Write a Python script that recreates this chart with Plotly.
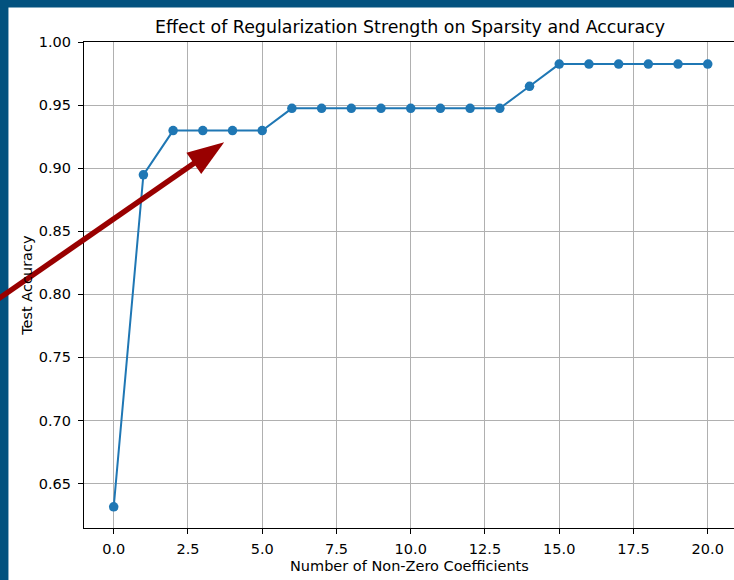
import math
import plotly.graph_objects as go

# Data
n_nonzero = [0, 1, 2, 3, 4, 5, 6, 7, 8, 9, 10, 11, 12, 13, 14, 15, 16, 17, 18, 19, 20]
accuracy = [0.6316, 0.8947, 0.9298, 0.9298, 0.9298, 0.9298, 0.9474, 0.9474, 0.9474,
            0.9474, 0.9474, 0.9474, 0.9474, 0.9474, 0.9649, 0.9825, 0.9825, 0.9825,
            0.9825, 0.9825, 0.9825]
x_ticks = [0.0, 2.5, 5.0, 7.5, 10.0, 12.5, 15.0, 17.5, 20.0]
x_tick_labels = ["0.0", "2.5", "5.0", "7.5", "10.0", "12.5", "15.0", "17.5", "20.0"]
y_ticks = [0.65, 0.70, 0.75, 0.80, 0.85, 0.90, 0.95, 1.00]
y_tick_labels = ["0.65", "0.70", "0.75", "0.80", "0.85", "0.90", "0.95", "1.00"]
title_text = "Effect of Regularization Strength on Sparsity and Accuracy"
x_title = "Number of Non-Zero Coefficients"
y_title = "Test Accuracy"
arrow_tip = (3.72, 0.9205)  # data coordinates the arrow points at

W, H = 734, 580
ML, MR, MT, MB = 83.6, 0, 41.5, 52.3
pw = W - ML - MR
ph = H - MT - MB
px_per_x = 29.72
x_range = [-1, -1 + pw / px_per_x]
y_range = [0.6148, 1.0]

def page_x(px):
    return (px - ML) / pw

def page_y(py):
    return (H - MB - py) / ph

def data_to_px(x, y):
    px = ML + (x - x_range[0]) / (x_range[1] - x_range[0]) * pw
    py = MT + (y_range[1] - y) / (y_range[1] - y_range[0]) * ph
    return px, py

FONT = "DejaVu Sans"
border = "#03527f"
arrow_color = "#990000"
TICK_SIZE = 14.5
TITLE_SIZE = 17.4

# Arrow geometry (pixels): tail offset, head length and half-width
tx, ty = data_to_px(*arrow_tip)
tail_dx, tail_dy = -238, 165
L = math.hypot(tail_dx, tail_dy)
ux, uy = -tail_dx / L, -tail_dy / L      # unit vector tail -> tip
nx, ny = -uy, ux
head_len, head_half = 37, 13
bx, by = tx - head_len * ux, ty - head_len * uy
c1 = (bx + head_half * nx, by + head_half * ny)
c2 = (bx - head_half * nx, by - head_half * ny)
head_path = "M {:.5f},{:.5f} L {:.5f},{:.5f} L {:.5f},{:.5f} Z".format(
    page_x(tx), page_y(ty), page_x(c1[0]), page_y(c1[1]), page_x(c2[0]), page_y(c2[1]))

fig = go.Figure()
fig.add_trace(go.Scatter(
    x=n_nonzero, y=accuracy, mode="lines+markers",
    line=dict(color="#1f77b4", width=2),
    marker=dict(color="#1f77b4", size=9.5),
    showlegend=False,
))

axis_common = dict(
    showgrid=True, gridcolor="#b0b0b0", gridwidth=1,
    zeroline=False, showline=True, linecolor="black", linewidth=1.1,
    ticks="outside", ticklen=5, tickwidth=1, tickcolor="black",
    tickfont=dict(family=FONT, size=TICK_SIZE, color="black"),
)

fig.update_layout(
    width=W, height=H,
    margin=dict(l=ML, r=MR, t=MT, b=MB, pad=0),
    paper_bgcolor="white", plot_bgcolor="white",
    hovermode=False,
    xaxis=dict(range=x_range, tickvals=x_ticks, ticktext=x_tick_labels,
               mirror=True, ticklabelstandoff=3, **axis_common),
    yaxis=dict(range=y_range, tickvals=y_ticks, ticktext=y_tick_labels,
               ticklabelstandoff=4, **axis_common),
    shapes=[
        dict(type="rect", xref="paper", yref="paper", layer="above",
             x0=page_x(-20), x1=page_x(8), y0=page_y(620), y1=page_y(-20),
             fillcolor=border, line=dict(width=0)),
        dict(type="rect", xref="paper", yref="paper", layer="above",
             x0=page_x(-20), x1=page_x(760), y0=page_y(7), y1=page_y(-20),
             fillcolor=border, line=dict(width=0)),
        dict(type="line", xref="paper", yref="paper", layer="above",
             x0=page_x(tx + tail_dx), y0=page_y(ty + tail_dy),
             x1=page_x(bx + 2 * ux), y1=page_y(by + 2 * uy),
             line=dict(color=arrow_color, width=5.5)),
        dict(type="path", xref="paper", yref="paper", layer="above",
             path=head_path, fillcolor=arrow_color, line=dict(width=0)),
    ],
    annotations=[
        dict(text=title_text, xref="paper", yref="paper",
             x=page_x(409.5), y=page_y(26), xanchor="center", yanchor="middle",
             showarrow=False, font=dict(family=FONT, size=TITLE_SIZE, color="black")),
        dict(text=x_title, xref="paper", yref="paper",
             x=page_x(409.5), y=page_y(566), xanchor="center", yanchor="middle",
             showarrow=False, font=dict(family=FONT, size=TICK_SIZE, color="black")),
        dict(text=y_title, xref="paper", yref="paper", textangle=-90,
             x=page_x(27), y=page_y(285), xanchor="center", yanchor="middle",
             showarrow=False, font=dict(family=FONT, size=TICK_SIZE, color="black")),
    ],
)

fig.write_html(
    "out.html",
    config={"displayModeBar": False},
    post_script="document.body.style.margin='0';document.body.style.overflow='hidden';",
)
